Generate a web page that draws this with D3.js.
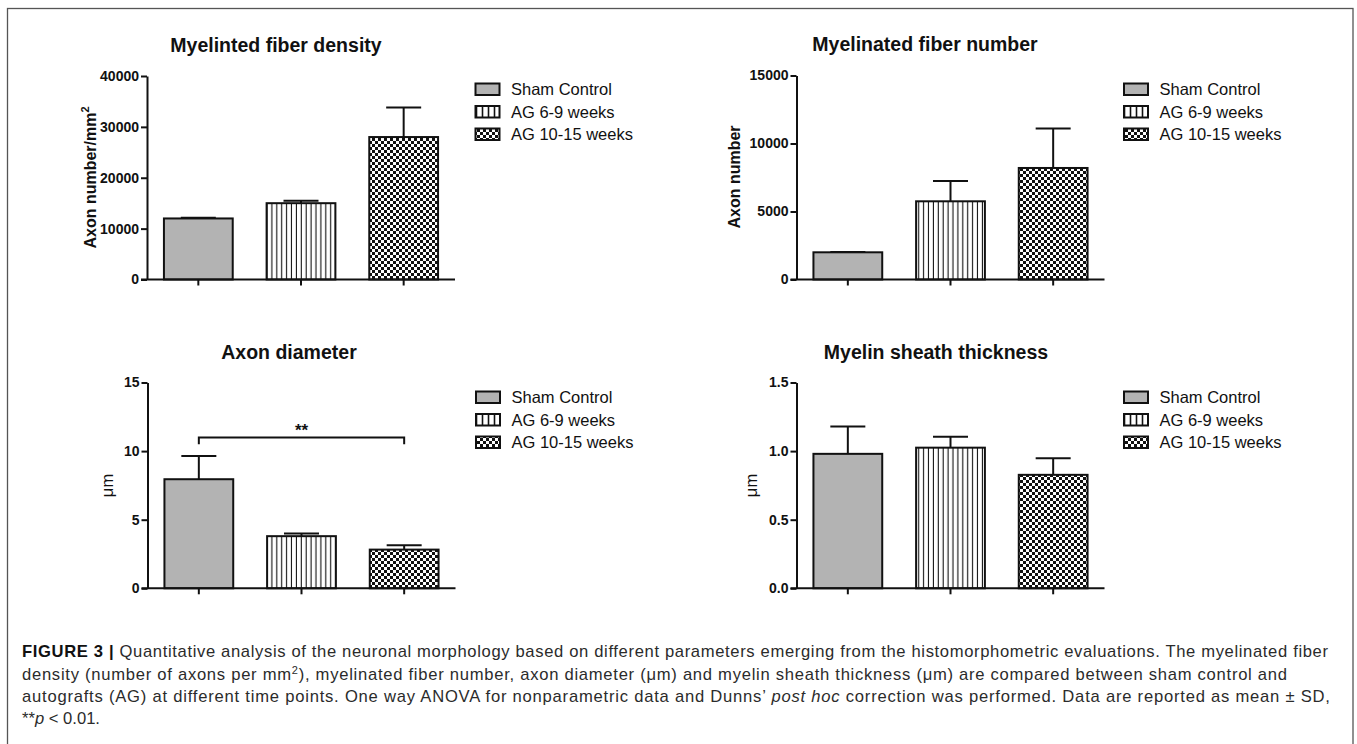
<!DOCTYPE html>
<html><head><meta charset="utf-8">
<script src="https://cdn.jsdelivr.net/npm/d3@7"></script>
<style>
html,body{margin:0;padding:0;background:#fff;}
svg{display:block;font-family:"Liberation Sans",Arial,Helvetica,sans-serif;}
</style></head><body>
<svg id="chart" width="1357" height="744"></svg>
<script>
// ---------------- data ----------------
const categories = ["Sham Control", "AG 6-9 weeks", "AG 10-15 weeks"];

const densityMean  = [12000, 15000, 28000];
const densitySD    = [150, 500, 5800];
const densityTicks = [0, 10000, 20000, 30000, 40000];

const numberMean  = [2000, 5750, 8200];
const numberSD    = [30, 1500, 2900];
const numberTicks = [0, 5000, 10000, 15000];

const diameterMean  = [7.95, 3.8, 2.82];
const diameterSD    = [1.7, 0.2, 0.32];
const diameterTicks = [0, 5, 10, 15];

const thicknessMean  = [0.98, 1.025, 0.827];
const thicknessSD    = [0.2, 0.08, 0.12];
const thicknessTicks = [0.0, 0.5, 1.0, 1.5];

const sigPair  = [0, 2];     // Sham Control vs AG 10-15 weeks (axon diameter)
const sigLevel = 11;
const sigDrop  = 10.5;
const sigLabel = "**";

const titles = ["Myelinted fiber density", "Myelinated fiber number", "Axon diameter", "Myelin sheath thickness"];

// ---------------- layout ----------------
const svg = d3.select("#chart");
const fills = ["#b3b3b3", "url(#stripes)", "url(#checks)"];
const legendFills = ["#b3b3b3", "url(#stripesL)", "url(#checksL)"];

const defs = svg.append("defs");
const st = defs.append("pattern").attr("id", "stripes").attr("patternUnits", "userSpaceOnUse")
  .attr("width", 4.9).attr("height", 10);
st.append("rect").attr("width", 4.9).attr("height", 10).attr("fill", "#fff");
st.append("line").attr("x1", 2.4).attr("x2", 2.4).attr("y1", 0).attr("y2", 10)
  .attr("stroke", "#111").attr("stroke-width", 1.1);
const stL = defs.append("pattern").attr("id", "stripesL").attr("patternUnits", "userSpaceOnUse")
  .attr("width", 6).attr("height", 10);
stL.append("rect").attr("width", 6).attr("height", 10).attr("fill", "#fff");
stL.append("line").attr("x1", 2.5).attr("x2", 2.5).attr("y1", 0).attr("y2", 10)
  .attr("stroke", "#111").attr("stroke-width", 1.6);
const ck = defs.append("pattern").attr("id", "checks").attr("patternUnits", "userSpaceOnUse")
  .attr("width", 6).attr("height", 6);
ck.append("rect").attr("width", 6).attr("height", 6).attr("fill", "#fff");
ck.append("rect").attr("width", 3).attr("height", 3).attr("fill", "#111");
ck.append("rect").attr("x", 3).attr("y", 3).attr("width", 3).attr("height", 3).attr("fill", "#111");
const ckL = defs.append("pattern").attr("id", "checksL").attr("patternUnits", "userSpaceOnUse")
  .attr("width", 6).attr("height", 6);
ckL.append("rect").attr("width", 6).attr("height", 6).attr("fill", "#fff");
ckL.append("rect").attr("width", 3).attr("height", 3).attr("fill", "#111");
ckL.append("rect").attr("x", 3).attr("y", 3).attr("width", 3).attr("height", 3).attr("fill", "#111");

// outer frame
svg.append("rect").attr("x", 7.5).attr("y", 8.5).attr("width", 1345.5).attr("height", 745)
  .attr("fill", "none").attr("stroke", "#555").attr("stroke-width", 1.3);

const panels = [
  { title: titles[0], mean: densityMean, sd: densitySD, ticks: densityTicks, fmt: d3.format("d"),
    x0: 147, yTop: 76, y0: 279.5, tx: 276, ty: 52, lx: 96, ly: 177.5, label: "density", legX: 475.5, legY: 95 },
  { title: titles[1], mean: numberMean, sd: numberSD, ticks: numberTicks, fmt: d3.format("d"),
    x0: 796.5, yTop: 75.5, y0: 279.5, tx: 925, ty: 51, lx: 740, ly: 177, label: "number", legX: 1124, legY: 95 },
  { title: titles[2], mean: diameterMean, sd: diameterSD, ticks: diameterTicks, fmt: d3.format("d"),
    x0: 147.5, yTop: 382.5, y0: 588.3, tx: 289, ty: 359, lx: 112.5, ly: 485.5, label: "um", legX: 476, legY: 403, sig: true },
  { title: titles[3], mean: thicknessMean, sd: thicknessSD, ticks: thicknessTicks, fmt: d3.format(".1f"),
    x0: 796.5, yTop: 382.5, y0: 588.3, tx: 936, ty: 359, lx: 757, ly: 485.5, label: "um", legX: 1124, legY: 403 }
];

const plotW = 308;

panels.forEach(p => {
  const g = svg.append("g");
  const x = d3.scaleBand().domain(categories).range([p.x0, p.x0 + plotW])
    .paddingInner(0.33).paddingOuter(0.165);
  const y = d3.scaleLinear().domain([p.ticks[0], p.ticks[p.ticks.length - 1]]).range([p.y0, p.yTop]);
  const rows = categories.map((c, i) => ({ c, i, m: p.mean[i], s: p.sd[i] }));

  // title
  g.append("text").attr("x", p.tx).attr("y", p.ty).attr("text-anchor", "middle")
    .attr("font-size", 19.5).attr("font-weight", "bold").attr("fill", "#111").text(p.title);

  // bars
  g.selectAll("rect.bar").data(rows).join("rect").attr("class", "bar")
    .attr("x", d => x(d.c)).attr("width", x.bandwidth())
    .attr("y", d => y(d.m)).attr("height", d => y(0) - y(d.m))
    .attr("fill", d => fills[d.i]).attr("stroke", "#111").attr("stroke-width", 2);

  // error bars (upper)
  const cx = d => x(d.c) + x.bandwidth() / 2;
  g.selectAll("line.eb").data(rows).join("line").attr("class", "eb")
    .attr("x1", cx).attr("x2", cx).attr("y1", d => y(d.m)).attr("y2", d => y(d.m + d.s))
    .attr("stroke", "#111").attr("stroke-width", 2);
  g.selectAll("line.cap").data(rows).join("line").attr("class", "cap")
    .attr("x1", d => cx(d) - 17.5).attr("x2", d => cx(d) + 17.5)
    .attr("y1", d => y(d.m + d.s)).attr("y2", d => y(d.m + d.s))
    .attr("stroke", "#111").attr("stroke-width", 2);

  // axes
  const ya = g.append("g").attr("transform", `translate(${p.x0},0)`)
    .call(d3.axisLeft(y).tickValues(p.ticks).tickFormat(p.fmt).tickSize(6).tickSizeOuter(0).tickPadding(2));
  ya.select(".domain").attr("stroke", "#111").attr("stroke-width", 2);
  ya.selectAll(".tick line").attr("stroke", "#111").attr("stroke-width", 2);
  ya.selectAll(".tick text").attr("font-size", 14).attr("font-weight", "bold").attr("fill", "#111")
    .attr("font-family", "Liberation Sans, Arial, sans-serif");

  const xa = g.append("g").attr("transform", `translate(0,${p.y0})`)
    .call(d3.axisBottom(x).tickSize(6).tickSizeOuter(0).tickFormat(""));
  xa.select(".domain").attr("stroke", "#111").attr("stroke-width", 2)
    .attr("d", `M${p.x0 - 6},0H${p.x0 + plotW}`);
  xa.selectAll(".tick line").attr("stroke", "#111").attr("stroke-width", 2);

  // y label
  const yl = g.append("text").attr("transform", `translate(${p.lx},${p.ly}) rotate(-90)`)
    .attr("text-anchor", "middle").attr("fill", "#111");
  if (p.label === "density") {
    yl.attr("font-size", 16).attr("font-weight", "bold");
    yl.append("tspan").text("Axon number/mm");
    yl.append("tspan").attr("dy", -7).attr("font-size", 11).text("2");
  } else if (p.label === "number") {
    yl.attr("font-size", 16).attr("font-weight", "bold").text("Axon number");
  } else {
    yl.attr("font-size", 16.5).text("\u03BCm");
  }

  // significance bracket
  if (p.sig) {
    const a = rows[sigPair[0]], b = rows[sigPair[1]];
    g.append("path")
      .attr("d", `M${cx(a)},${y(sigDrop)}V${y(sigLevel)}H${cx(b)}V${y(sigDrop)}`)
      .attr("fill", "none").attr("stroke", "#111").attr("stroke-width", 2);
    g.append("text").attr("x", (cx(a) + cx(b)) / 2).attr("y", y(sigLevel) - 1.5)
      .attr("text-anchor", "middle").attr("font-size", 17).attr("font-weight", "bold")
      .attr("fill", "#111").text(sigLabel);
  }

  // legend
  const lg = g.append("g");
  categories.forEach((c, i) => {
    const yy = p.legY + i * 22.5;
    lg.append("rect").attr("x", p.legX).attr("y", yy - 11.5).attr("width", 24).attr("height", 11.5)
      .attr("fill", legendFills[i]).attr("stroke", "#111").attr("stroke-width", 2);
    lg.append("text").attr("x", p.legX + 35.5).attr("y", yy).attr("font-size", 16.5)
      .attr("fill", "#111").text(c);
  });
});

// ---------------- caption ----------------
const cap = svg.append("g").attr("font-size", 16.6).attr("fill", "#2b2b2b");
const capX = 22;
const l1 = cap.append("text").attr("x", capX).attr("y", 657).attr("textLength", 1306).attr("lengthAdjust", "spacing");
l1.append("tspan").attr("font-weight", "bold").attr("fill", "#111").text("FIGURE 3 |");
l1.append("tspan").text(" Quantitative analysis of the neuronal morphology based on different parameters emerging from the histomorphometric evaluations. The myelinated fiber");

const l2 = cap.append("text").attr("x", capX).attr("y", 680).attr("textLength", 1265).attr("lengthAdjust", "spacing");
l2.append("tspan").text("density (number of axons per mm");
l2.append("tspan").attr("dy", -6).attr("font-size", 11).text("2");
l2.append("tspan").attr("dy", 6).text("), myelinated fiber number, axon diameter (\u03BCm) and myelin sheath thickness (\u03BCm) are compared between sham control and");

const l3 = cap.append("text").attr("x", capX).attr("y", 702).attr("textLength", 1308).attr("lengthAdjust", "spacing");
l3.append("tspan").text("autografts (AG) at different time points. One way ANOVA for nonparametric data and Dunns\u2019 ");
l3.append("tspan").attr("font-style", "italic").text("post hoc");
l3.append("tspan").text(" correction was performed. Data are reported as mean \u00B1 SD,");

const l4 = cap.append("text").attr("x", capX).attr("y", 724);
l4.append("tspan").text("**");
l4.append("tspan").attr("font-style", "italic").text("p");
l4.append("tspan").text(" < 0.01.");
</script>
</body></html>
